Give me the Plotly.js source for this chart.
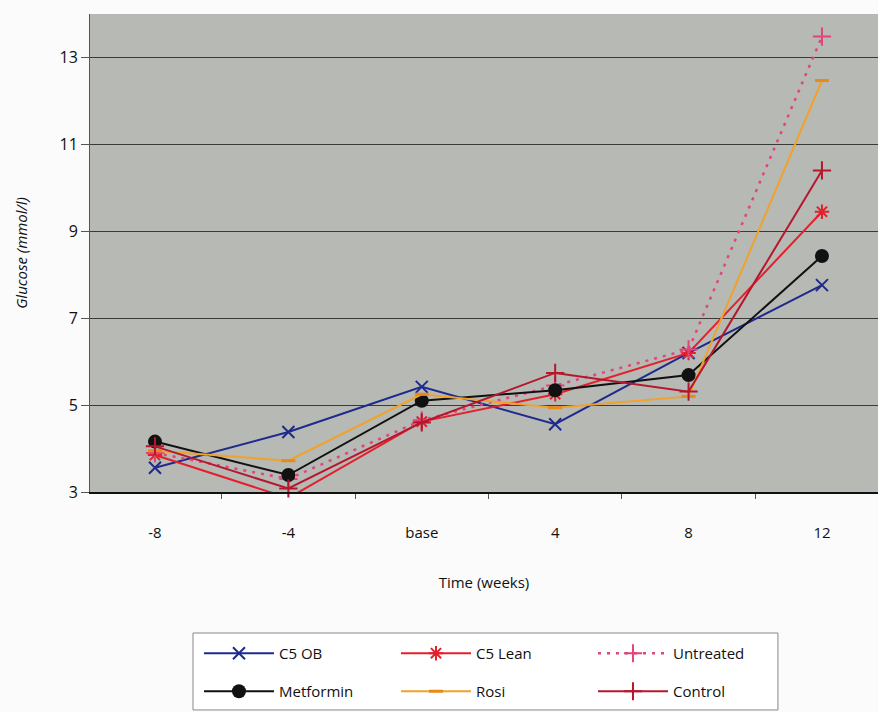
<!DOCTYPE html>
<html>
<head>
<meta charset="utf-8">
<script src="https://cdn.plot.ly/plotly-3.0.1.min.js"></script>
<style>html,body{margin:0;padding:0;background:#fbfbfb;}#chart{width:878px;height:712px;}</style>
</head>
<body>
<div id="chart"></div>
<script>
// Data
const timeLabels = ["-8", "-4", "base", "4", "8", "12"];
const c5ob      = [3.56, 4.38, 5.42, 4.56, 6.2, 7.76];
const c5lean    = [3.85, 2.86, 4.62, 5.25, 6.2, 9.45];
const untreated = [3.9, 3.3, 4.65, 5.45, 6.28, 13.48];
const metformin = [4.16, 3.39, 5.1, 5.34, 5.69, 8.43];
const rosi      = [3.95, 3.72, 5.25, 4.94, 5.2, 12.47];
const control   = [4.05, 3.08, 4.6, 5.74, 5.31, 10.4];
const yTicks = [3, 5, 7, 9, 11, 13];

const font = "Open Sans, DejaVu Sans, sans-serif";

function tr(name, y, color, lineOpts, marker, legendId) {
  return {
    type: "scatter", mode: "lines+markers", name: name,
    x: timeLabels, y: y, cliponaxis: false,
    legend: legendId,
    line: Object.assign({color: color, width: 2}, lineOpts),
    marker: marker
  };
}

const data = [
  tr("C5 OB", c5ob, "#1f2a8c", {}, {symbol: "x-thin-open", size: 12, color: "#1f2a8c", line: {width: 2, color: "#1f2a8c"}}, "legend"),
  tr("C5 Lean", c5lean, "#e3202c", {}, {symbol: "asterisk-open", size: 12, color: "#e3202c", line: {width: 2, color: "#e3202c"}}, "legend"),
  tr("Untreated", untreated, "#e0457e", {dash: "3px,6px", width: 2.5}, {symbol: "cross-thin-open", size: 13, color: "#e0457e", line: {width: 2, color: "#e0457e"}}, "legend"),
  tr("Metformin", metformin, "#111111", {}, {symbol: "circle", size: 14, color: "#111111"}, "legend2"),
  tr("Rosi", rosi, "#f0a22a", {}, {symbol: "line-ew-open", size: 10, color: "#e88a1a", line: {width: 3, color: "#e88a1a"}}, "legend2"),
  tr("Control", control, "#b5182c", {}, {symbol: "cross-thin-open", size: 13, color: "#b5182c", line: {width: 2, color: "#b5182c"}}, "legend2")
];

const legendBase = {
  orientation: "h",
  x: 0.1383, xanchor: "left",
  yanchor: "top",
  bgcolor: "rgba(0,0,0,0)", borderwidth: 0,
  entrywidth: 112,
  itemwidth: 70,
  font: {family: font, size: 15}
};

const layout = {
  width: 878, height: 712,
  margin: {l: 90, r: 0, t: 14, b: 220},
  paper_bgcolor: "#fbfbfb",
  plot_bgcolor: "#b6b9b4",
  font: {family: font, size: 15, color: "#111"},
  showlegend: true,
  xaxis: {
    type: "category",
    range: [-0.487, 5.42],
    tickson: "boundaries",
    ticks: "outside", ticklen: 5, tickcolor: "#555",
    ticklabelstandoff: 26,
    showgrid: false,
    showline: true, linecolor: "#111", linewidth: 2,
    zeroline: false,
    tickfont: {family: font, size: 15},
    title: {text: "Time (weeks)", font: {family: font, size: 15}, standoff: 36}
  },
  yaxis: {
    range: [3, 14],
    tickvals: yTicks,
    ticks: "outside", ticklen: 8, tickcolor: "#555",
    showgrid: true, gridcolor: "#3a3a3a", gridwidth: 1,
    showline: true, linecolor: "#555", linewidth: 1, mirror: true,
    zeroline: false,
    tickfont: {family: font, size: 16},
    title: {text: "<i>Glucose (mmol/l)</i>", font: {family: font, size: 15}, standoff: 28}
  },
  legend: Object.assign({}, legendBase, {y: -0.3033}),
  legend2: Object.assign({}, legendBase, {y: -0.3828}),
  shapes: [{
    type: "rect", xref: "paper", yref: "paper",
    x0: 0.1307, x1: 0.873, y0: -0.456, y1: -0.295,
    line: {color: "#888", width: 1}, fillcolor: "#ffffff", layer: "below"
  }]
};

Plotly.newPlot("chart", data, layout, {displayModeBar: false, staticPlot: true});
</script>
</body>
</html>
